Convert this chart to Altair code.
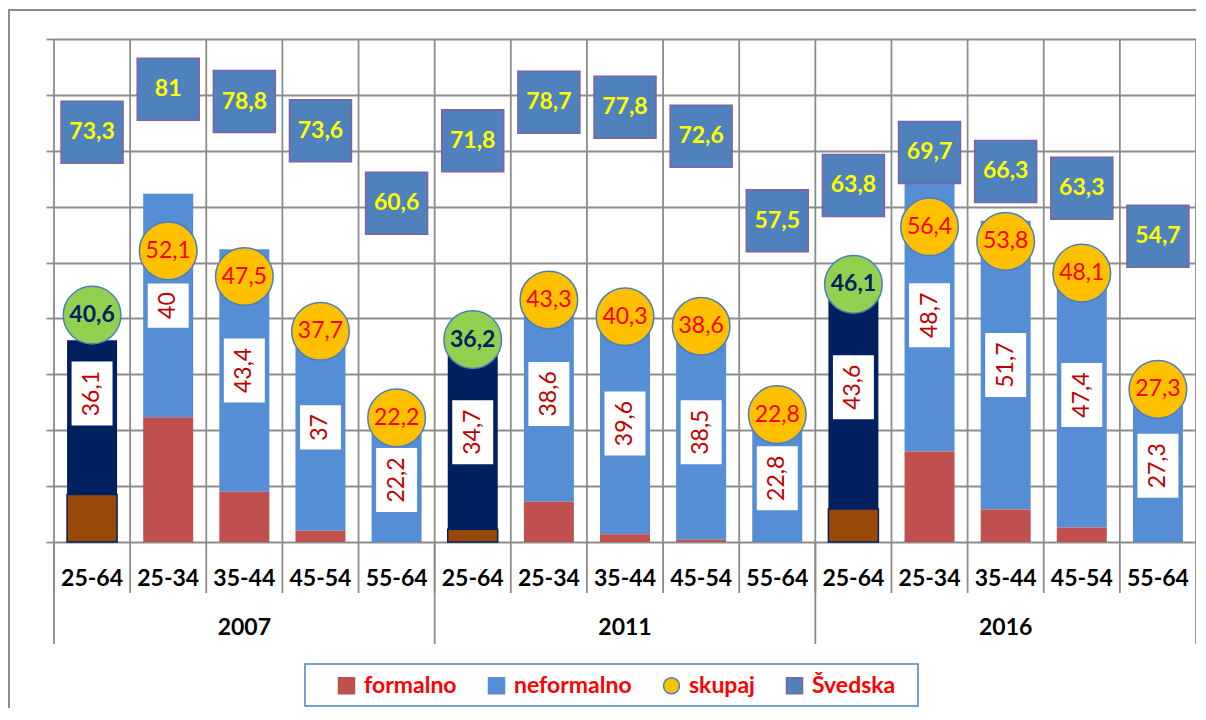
import altair as alt
import pandas as pd

years = ["2007", "2011", "2016"]
ages = ["25-64", "25-34", "35-44", "45-54", "55-64"]
formalno = [8.5, 22.3, 9.0, 2.0, 0.0,
            2.3, 7.2, 1.4, 0.4, 0.0,
            5.9, 16.2, 5.8, 2.6, 0.0]
neformalno = [36.1, 40, 43.4, 37, 22.2,
              34.7, 38.6, 39.6, 38.5, 22.8,
              43.6, 48.7, 51.7, 47.4, 27.3]
skupaj = [40.6, 52.1, 47.5, 37.7, 22.2,
          36.2, 43.3, 40.3, 38.6, 22.8,
          46.1, 56.4, 53.8, 48.1, 27.3]
svedska = [73.3, 81, 78.8, 73.6, 60.6,
           71.8, 78.7, 77.8, 72.6, 57.5,
           63.8, 69.7, 66.3, 63.3, 54.7]
series = ["formalno", "neformalno", "skupaj", "Švedska"]

rows = []
for i, yr in enumerate(years):
    for j, ag in enumerate(ages):
        k = i * 5 + j
        rows.append(dict(cat=f"{yr}|{ag}", year=yr, age=ag,
                         formalno=formalno[k], neformalno=neformalno[k],
                         skupaj=skupaj[k], svedska=svedska[k]))
df = pd.DataFrame(rows)
cats = list(df["cat"])
last_cat = cats[-1]

GRID = "#8C8C8C"
RED = "#C0504D"
BROWN = "#984807"
BLUE = "#558ED5"
NAVY = "#002060"
ORANGE = "#FFC000"
GREEN = "#92D050"
SQ = "#4F81BD"
PURPLE = "#8064A2"
FONT = "Lato"

xaxis = alt.Axis(title=None, labelExpr="split(datum.label, '|')[1]", labelFont=FONT,
                 labelFontSize=23, labelFontWeight="bold", labelColor="black",
                 labelBaseline="middle", labelPadding=36, labelAngle=0,
                 ticks=False, tickSize=0, domain=False, grid=False)
xscale = alt.Scale(domain=cats, paddingInner=0, paddingOuter=0)
yaxis = alt.Axis(title=None, values=list(range(0, 91, 10)), labels=False, ticks=True,
                 tickSize=8, tickColor=GRID, tickWidth=1.8, domain=False, grid=True,
                 gridColor=GRID, gridWidth=1.8)
yscale = alt.Scale(domain=[0, 90], nice=False)


def X(bp=None):
    if bp is None:
        return alt.X("cat:N", scale=xscale, axis=xaxis)
    return alt.X("cat:N", scale=xscale, axis=xaxis, bandPosition=bp)


def Y(field):
    return alt.Y(field, scale=yscale, axis=yaxis)


is_total = "datum.age == '25-64'"
base = alt.Chart(df).transform_calculate(
    nbase=f"{is_total} ? 0 : datum.formalno",
    ntop=f"{is_total} ? datum.neformalno : datum.formalno + datum.neformalno",
    mid="datum.formalno + datum.neformalno / 2",
    nlab="replace('' + datum.neformalno, '.', ',')",
    slab="replace('' + datum.skupaj, '.', ',')",
    vlab="replace('' + datum.svedska, '.', ',')",
)

# vertical grid lines continuing as separators below the axis
vrules = base.mark_rule(color=GRID, strokeWidth=1.8).encode(
    x=X(0), y=alt.value(0), y2=alt.value(554))
vrule_last = base.mark_rule(color=GRID, strokeWidth=1.8).transform_filter(
    f"datum.cat == '{last_cat}'").encode(x=X(1), y=alt.value(0), y2=alt.value(605))
grules = base.mark_rule(color=GRID, strokeWidth=1.8).transform_filter(is_total).encode(
    x=X(0), y=alt.value(503), y2=alt.value(605))

neform_bars = base.mark_bar(size=50).encode(
    x=X(), y=Y("ntop:Q"), y2="nbase:Q",
    color=alt.condition(is_total, alt.value(NAVY), alt.value(BLUE)))
formal_bars = base.mark_bar(size=50, strokeWidth=1.5).encode(
    x=X(), y=Y("formalno:Q"),
    color=alt.condition(is_total, alt.value(BROWN), alt.value(RED)),
    stroke=alt.condition(is_total, alt.value(NAVY), alt.value("transparent")))

long_box = "M-0.64,-1L0.64,-1L0.64,1L-0.64,1Z"
short_box = "M-0.64,-0.69L0.64,-0.69L0.64,0.69L-0.64,0.69Z"
boxes_long = base.mark_point(shape=long_box, filled=True, size=4096, color="white",
                             opacity=1).transform_filter("length(datum.nlab) > 2").encode(
    x=X(), y=Y("mid:Q"))
boxes_short = base.mark_point(shape=short_box, filled=True, size=4096, color="white",
                              opacity=1).transform_filter("length(datum.nlab) <= 2").encode(
    x=X(), y=Y("mid:Q"))
box_text = base.mark_text(angle=270, font=FONT, fontSize=23, color="#C00000",
                          align="center", baseline="middle").encode(
    x=X(), y=Y("mid:Q"), text="nlab:N")

circles = base.mark_point(shape="circle", filled=True, size=3320, stroke="#4A7EBB",
                          strokeWidth=1.5, opacity=1).encode(
    x=X(), y=Y("skupaj:Q"),
    color=alt.condition(is_total, alt.value(GREEN), alt.value(ORANGE)))
circ_text_tot = base.mark_text(font=FONT, fontSize=23, fontWeight="bold", color=NAVY,
                               align="center", baseline="middle").transform_filter(
    is_total).encode(x=X(), y=Y("skupaj:Q"), text="slab:N")
circ_text = base.mark_text(font=FONT, fontSize=23, color="#FF0000",
                           align="center", baseline="middle").transform_filter(
    "datum.age != '25-64'").encode(x=X(), y=Y("skupaj:Q"), text="slab:N")

squares = base.mark_point(shape="square", filled=True, size=3844, fill=SQ, stroke=PURPLE,
                          strokeWidth=1.5, opacity=1).encode(x=X(), y=Y("svedska:Q"))
sq_text = base.mark_text(font=FONT, fontSize=23, fontWeight="bold", color="#FFFF00",
                         align="center", baseline="middle").encode(
    x=X(), y=Y("svedska:Q"), text="vlab:N")

year_text = base.mark_text(font=FONT, fontSize=23, fontWeight="bold", color="black",
                           align="center", baseline="middle").transform_filter(
    "datum.age == '35-44'").encode(x=X(), y=alt.value(589), text="year:N")

one = alt.Chart(pd.DataFrame({"a": [0]}))
frame_top = one.mark_rule(color=GRID, strokeWidth=2).encode(
    x=alt.value(-46), x2=alt.value(1160), y=alt.value(-29))
frame_left = one.mark_rule(color=GRID, strokeWidth=2).encode(
    x=alt.value(-45), y=alt.value(-29), y2=alt.value(700))
legend_box = one.mark_rect(fill="white", stroke=SQ, strokeWidth=1.5).encode(
    x=alt.value(251), x2=alt.value(864), y=alt.value(625), y2=alt.value(667))

legend = alt.Legend(orient="none", legendX=281, legendY=635, direction="horizontal",
                    columns=4, title=None, labelFont=FONT, labelFontSize=23,
                    labelFontWeight="bold", labelColor="#FF0000", symbolSize=256,
                    symbolStrokeWidth=1.5, columnPadding=28, labelOffset=6, padding=0,
                    symbolOpacity=1)
leg_df = pd.DataFrame({"series": series})
dummy = alt.Chart(leg_df).mark_point(filled=True, opacity=1).encode(
    x=alt.value(-3000), y=alt.value(-3000),
    fill=alt.Fill("series:N", scale=alt.Scale(domain=series, range=[RED, BLUE, ORANGE, SQ]),
                  legend=legend),
    stroke=alt.Stroke("series:N", scale=alt.Scale(domain=series,
                                                  range=[RED, BLUE, "#4A7EBB", PURPLE]),
                      legend=legend),
    shape=alt.Shape("series:N", scale=alt.Scale(domain=series,
                                                range=["square", "square", "circle", "square"]),
                    legend=legend),
)

chart = alt.layer(
    vrules, vrule_last, grules, neform_bars, formal_bars, boxes_long, boxes_short, box_text,
    circles, circ_text_tot, circ_text, squares, sq_text, year_text,
    frame_top, frame_left, legend_box, dummy
).properties(
    width=1142, height=503,
    autosize=alt.AutoSizeParams(type="none"),
    padding={"left": 46, "top": 31, "right": 0, "bottom": 166},
    background="white",
).configure_view(stroke=GRID, strokeWidth=1.8).configure(font=FONT)

chart.save("out.html", embed_options={"renderer": "svg", "actions": False})
